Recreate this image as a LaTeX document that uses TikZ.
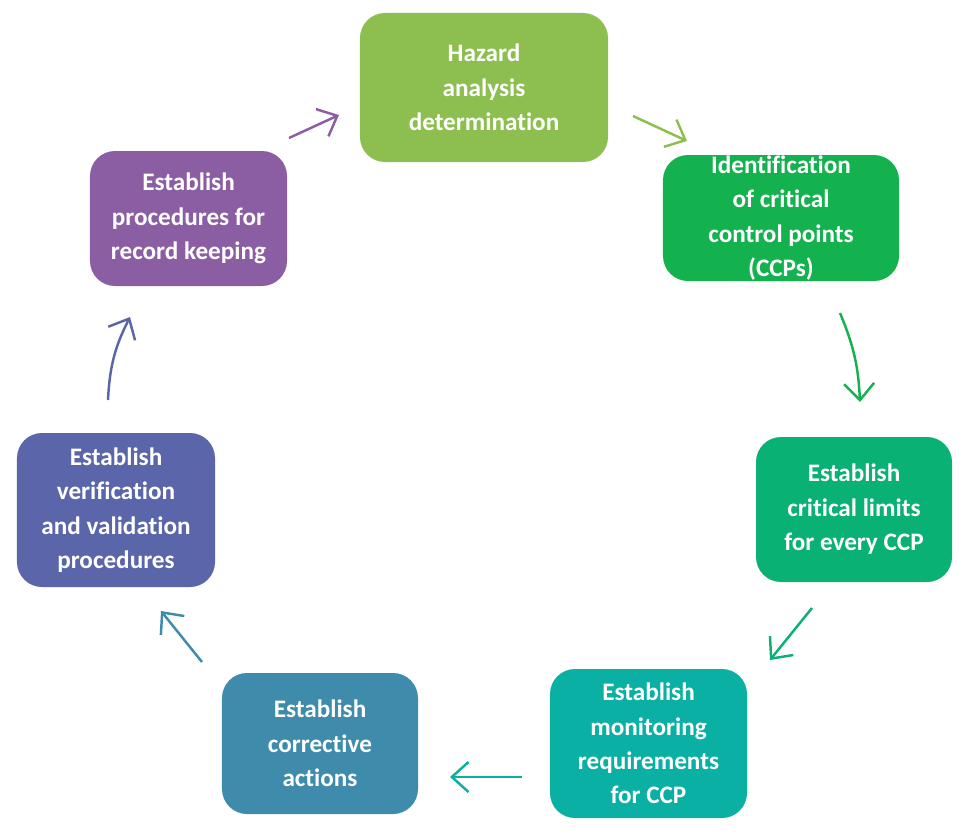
\documentclass[tikz,border=0pt]{standalone}
\usepackage{fontspec}
\setmainfont{Carlito}[Ligatures=NoCommon]
\usetikzlibrary{arrows.meta,calc,positioning}

\definecolor{hazardgreen}{HTML}{8DBF50}
\definecolor{ccpgreen}{HTML}{14B24F}
\definecolor{limitgreen}{HTML}{0AB174}
\definecolor{monitorteal}{HTML}{0AB0A4}
\definecolor{correctblue}{HTML}{3E8BAB}
\definecolor{verifyblue}{HTML}{5B66AA}
\definecolor{recordpurple}{HTML}{8B5EA4}

\begin{document}
\begin{tikzpicture}[x=0.03cm, y=-0.03cm,
  stepbox/.style={rounded corners=0.75cm, text=white, align=center, inner sep=0pt,
    font=\fontsize{21.5}{29.4}\selectfont\bfseries},
  flow/.style={line width=2.1pt, -{Straight Barb[length=5mm,width=9mm]}}]

  \useasboundingbox (0,0) rectangle (967,833);

  % Steps of the cycle
  \node[stepbox, fill=hazardgreen, minimum width=7.44cm, minimum height=4.47cm]
    (hazard) at (484,87.5) {Hazard\\analysis\\determination};
  \node[stepbox, fill=ccpgreen, minimum width=7.08cm, minimum height=3.78cm]
    (ccp) at (781,218) {Identification\\of critical\\control points\\(CCPs)};
  \node[stepbox, fill=limitgreen, minimum width=5.88cm, minimum height=4.35cm]
    (limits) at (854,509.5) {Establish\\critical limits\\for every CCP};
  \node[stepbox, fill=monitorteal, minimum width=5.91cm, minimum height=4.47cm]
    (monitor) at (648.5,743.5) {Establish\\monitoring\\requirements\\for CCP};
  \node[stepbox, fill=correctblue, minimum width=5.88cm, minimum height=4.23cm]
    (corrective) at (320,743.5) {Establish\\corrective\\actions};
  \node[stepbox, fill=verifyblue, minimum width=5.94cm, minimum height=4.62cm]
    (verify) at (116,510) {Establish\\verification\\and validation\\procedures};
  \node[stepbox, fill=recordpurple, minimum width=5.91cm, minimum height=4.05cm]
    (record) at (188.5,218.5) {Establish\\procedures for\\record keeping};

  % Arrow ends
  \coordinate (recordout) at (289,138);   \coordinate (hazardin) at (339,115);
  \coordinate (hazardout) at (633,116);   \coordinate (ccpin) at (687,141);
  \coordinate (ccpout) at (840,313);      \coordinate (limitsin) at (860,402);
  \coordinate (limitsout) at (812,608);   \coordinate (monitorin) at (770,660);
  \coordinate (monitorout) at (522,777);  \coordinate (correctivein) at (450,777);
  \coordinate (correctiveout) at (202,662); \coordinate (verifyin) at (161,611);
  \coordinate (verifyout) at (108,400);   \coordinate (recordin) at (130,317);

  % Arrows
  \draw[flow, recordpurple] (recordout) -- (hazardin);
  \draw[flow, hazardgreen] (hazardout) -- (ccpin);
  \draw[flow, ccpgreen] (ccpout) to[bend left=10] (limitsin);
  \draw[flow, limitgreen] (limitsout) -- (monitorin);
  \draw[flow, monitorteal] (monitorout) -- (correctivein);
  \draw[flow, correctblue] (correctiveout) -- (verifyin);
  \draw[flow, verifyblue] (verifyout) to[bend left=12] (recordin);

\end{tikzpicture}
\end{document}
